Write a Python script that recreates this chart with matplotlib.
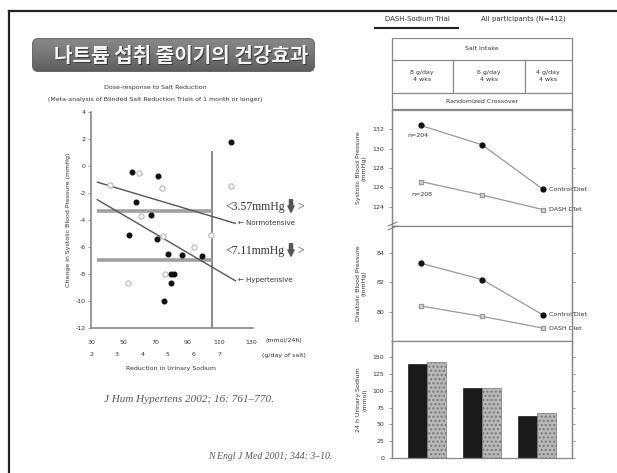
import numpy as np
import matplotlib
matplotlib.use('Agg')
import matplotlib.pyplot as plt
from matplotlib.patches import FancyBboxPatch
from matplotlib.lines import Line2D

# ---- left chart: dose-response meta-analysis ----
na_black = [117.5, 55.6, 72, 58, 67.5, 54, 71, 78, 87, 99, 80, 82, 80, 75.6]
bp_black = [1.8, -0.45, -0.75, -2.7, -3.6, -5.1, -5.4, -6.5, -6.6, -6.7, -8.0, -8.0, -8.7, -10.0]
na_gray = [60, 42, 74, 117.5, 61, 75, 94, 105, 76, 53]
bp_gray = [-0.5, -1.4, -1.6, -1.5, -3.7, -5.2, -6.0, -5.1, -8.0, -8.7]
normo_line = ([34, 120], [-1.2, -4.25])
hyper_line = ([34, 120], [-2.5, -8.5])
pooled_normo = -3.3
pooled_hyper = -7.0
cutoff_na = 105.6
mmol_ticks = [30, 50, 70, 90, 110, 130]
salt_g_ticks = [2, 3, 4, 5, 6, 7]
salt_g_pos = [30, 46, 62, 78, 94, 110]
bp_ticks = [4, 2, 0, -2, -4, -6, -8, -10, -12]

# ---- right chart: DASH-Sodium trial ----
salt_levels = ['8 g/day\n4 wks', '6 g/day\n4 wks', '4 g/day\n4 wks']
sbp_control = [132.4, 130.4, 125.8]
sbp_dash = [126.6, 125.2, 123.7]
dbp_control = [83.3, 82.2, 79.8]
dbp_dash = [80.4, 79.7, 78.9]
una_control = [140, 104, 62.5]
una_dash = [143, 104.5, 67]

W, H = 617, 473
fig = plt.figure(figsize=(W / 100, H / 100), dpi=100)
fig.patch.set_facecolor('white')
txt = '#333333'


def px_axes(x0, y0, x1, y1):
    return fig.add_axes([x0 / W, 1 - y1 / H, (x1 - x0) / W, (y1 - y0) / H])


def ftext(x, y, s, **kw):
    return fig.text(x / W, 1 - y / H, s, **kw)


# slide frame
fig.add_artist(Line2D([9 / W, 1], [1 - 11 / H] * 2, color='#222222', lw=1.6))
fig.add_artist(Line2D([9 / W] * 2, [0, 1 - 11 / H], color='#222222', lw=1.6))

# title banner
axb = px_axes(32, 38, 315, 72)
axb.set_xlim(0, 283)
axb.set_ylim(0, 34)
axb.axis('off')
box = FancyBboxPatch((0.5, 0.5), 282, 33, boxstyle='round,pad=0,rounding_size=6',
                     facecolor='none', edgecolor='#6a6a6a', lw=0.8)
axb.add_patch(box)
grad = np.linspace(0, 1, 34).reshape(-1, 1)
im = axb.imshow(grad, extent=(0, 283, 0, 34), cmap=matplotlib.colors.LinearSegmentedColormap.from_list(
    'b', ['#5c5c5c', '#767676', '#8a8a8a']), aspect='auto', origin='lower')
im.set_clip_path(box)
kfont = ['Noto Sans CJK KR', 'DejaVu Sans']
axb.text(150, 15.5, '나트륨 섭취 줄이기의 건강효과', family=kfont, fontsize=14.5, fontweight='bold',
         color='#3a3a3a', ha='center', va='center')
axb.text(149, 16.5, '나트륨 섭취 줄이기의 건강효과', family=kfont, fontsize=14.5, fontweight='bold',
         color='#f4f4f4', ha='center', va='center')

# left scatter
ax = px_axes(91, 112, 253, 328)
ax.set_xlim(30, 131)
ax.set_ylim(-12, 4)
for s in ['top', 'right']:
    ax.spines[s].set_visible(False)
for s in ['left', 'bottom']:
    ax.spines[s].set_color('#888888')
    ax.spines[s].set_linewidth(1.2)
ax.set_yticks(bp_ticks)
ax.set_yticklabels([str(t) for t in bp_ticks], fontsize=4.5, color=txt)
ax.set_xticks(mmol_ticks)
ax.set_xticklabels([str(t) for t in mmol_ticks], fontsize=4.5, color=txt)
ax.tick_params(length=2, width=0.6, color='#888888', pad=2)
ax.tick_params(axis='x', pad=9, length=0)
for g, p in zip(salt_g_ticks, salt_g_pos):
    ax.text(p, -14.0, str(g), fontsize=4.5, color=txt, ha='center', va='center', clip_on=False)
ax.text(150, -12.95, '(mmol/24h)', fontsize=4.5, color=txt, ha='center', va='center', clip_on=False)
ax.text(150, -14.0, '(g/day of salt)', fontsize=4.5, color=txt, ha='center', va='center', clip_on=False)
ax.text(80, -15.0, 'Reduction in Urinary Sodium', fontsize=4.5, color=txt, ha='center', va='center',
        clip_on=False)
ax.set_ylabel('Change in Systolic Blood Pressure (mmHg)', fontsize=4.5, color=txt, labelpad=3)

ax.axvline(cutoff_na, ymin=0, ymax=(1 + 12) / 16, color='#8a8a8a', lw=1.4)
ax.plot([34, cutoff_na], [pooled_normo] * 2, color='#a0a0a0', lw=2.6, solid_capstyle='butt')
ax.plot([34, cutoff_na], [pooled_hyper] * 2, color='#a0a0a0', lw=2.6, solid_capstyle='butt')
ax.plot(*normo_line, color='#555555', lw=1.0, clip_on=False)
ax.plot(*hyper_line, color='#555555', lw=1.0, clip_on=False)
ax.scatter(na_gray, bp_gray, s=14, facecolor='white', edgecolor='#bdbdbd', lw=0.9, zorder=3)
ax.scatter(na_black, bp_black, s=11, color='#111111', zorder=4, clip_on=False)

ftext(155, 88, 'Dose-response to Salt Reduction', fontsize=4.5, color=txt, ha='center', va='center')
ftext(155, 99, '(Meta-analysis of Blinded Salt Reduction Trials of 1 month or longer)', fontsize=4.5,
      color=txt, ha='center', va='center')

sfont = 'Liberation Serif'
for ylab, lab in [(207, '<3.57mmHg'), (251, '<7.11mmHg')]:
    ftext(225, ylab, lab, family=sfont, fontsize=8.5, color=txt, ha='left', va='center')
    ftext(297, ylab, '>', family=sfont, fontsize=8.5, color=txt, ha='left', va='center')
    fig.add_artist(matplotlib.patches.FancyArrowPatch(
        (291 / W, 1 - (ylab - 10) / H), (291 / W, 1 - (ylab + 8) / H),
        transform=fig.transFigure, arrowstyle='simple,head_width=0.5,head_length=0.5,tail_width=0.25',
        mutation_scale=9, color='#555555'))
ftext(238, 223, '\u2190 Normotensive', fontsize=5, color=txt, ha='left', va='center')
ftext(238, 280, '\u2190 Hypertensive', fontsize=5, color=txt, ha='left', va='center')

ftext(189, 399, 'J Hum Hypertens 2002; 16: 761\u2013770.', family=sfont, style='italic', fontsize=8,
      color='#555555', ha='center', va='center')
ftext(270, 456, 'N Engl J Med 2001; 344: 3\u201310.', family=sfont, style='italic', fontsize=7,
      color='#555555', ha='center', va='center')

# right: header and table
ftext(417, 19, 'DASH-Sodium Trial', fontsize=5, color=txt, ha='center', va='center')
fig.add_artist(Line2D([375 / W, 458 / W], [1 - 28 / H] * 2, color='#222222', lw=1.5))
ftext(523, 19, 'All participants (N=412)', fontsize=5, color=txt, ha='center', va='center')

axt = px_axes(392, 38, 572, 110)
axt.set_xlim(392, 572)
axt.set_ylim(110, 38)
axt.axis('off')
lc = '#888888'
for yy in [38.5, 60, 93, 109]:
    axt.axhline(yy, color=lc, lw=0.9)
for xx in [453, 525]:
    axt.plot([xx, xx], [60, 93], color=lc, lw=0.9)
axt.text(482, 49, 'Salt Intake', fontsize=4.5, color=txt, ha='center', va='center')
for cx, lab in zip([422, 489, 548], salt_levels):
    axt.text(cx, 76, lab, fontsize=4.5, color=txt, ha='center', va='center', linespacing=1.3)
axt.text(482, 101.5, 'Randomized Crossover', fontsize=4.5, color=txt, ha='center', va='center')
fig.add_artist(Line2D([392 / W] * 2, [1 - 38 / H, 1 - 458 / H], color=lc, lw=0.9))
fig.add_artist(Line2D([572 / W] * 2, [1 - 38 / H, 1 - 458 / H], color=lc, lw=0.9))

xs = np.arange(3)


def style_panel(a):
    for s in a.spines.values():
        s.set_color(lc)
        s.set_linewidth(0.9)
    a.tick_params(labelsize=4.5, labelcolor=txt, length=2, width=0.6, color=lc, right=True)
    a.set_xticks([])


axs = px_axes(392, 110, 572, 226)
axs.set_xlim(-0.475, 2.475)
axs.set_ylim(122, 134)
style_panel(axs)
axs.set_yticks([124, 126, 128, 130, 132])
axs.plot(xs, sbp_control, color='#999999', lw=0.9, marker='o', ms=3.5, mfc='#111111', mec='#111111')
axs.plot(xs, sbp_dash, color='#999999', lw=0.9, marker='s', ms=3.5, mfc='#dddddd', mec='#999999')
axs.text(-0.05, 131.4, 'n=204', fontsize=4.5, color=txt, ha='center', va='center')
axs.text(0.02, 125.3, 'n=208', fontsize=4.5, color=txt, ha='center', va='center')
axs.text(2.1, sbp_control[2], 'Control Diet', fontsize=4.5, color=txt, ha='left', va='center', clip_on=False)
axs.text(2.1, sbp_dash[2], 'DASH Diet', fontsize=4.5, color=txt, ha='left', va='center', clip_on=False)
axs.set_ylabel('Systolic Blood Pressure\n(mmHg)', fontsize=4.5, color=txt, labelpad=4)

axd = px_axes(392, 226, 572, 341)
axd.set_xlim(-0.475, 2.475)
axd.set_ylim(78.03, 85.83)
style_panel(axd)
axd.set_yticks([80, 82, 84])
axd.plot(xs, dbp_control, color='#999999', lw=0.9, marker='o', ms=3.5, mfc='#111111', mec='#111111')
axd.plot(xs, dbp_dash, color='#999999', lw=0.9, marker='s', ms=3.5, mfc='#dddddd', mec='#999999')
axd.text(2.1, dbp_control[2], 'Control Diet', fontsize=4.5, color=txt, ha='left', va='center', clip_on=False)
axd.text(2.1, dbp_dash[2], 'DASH Diet', fontsize=4.5, color=txt, ha='left', va='center', clip_on=False)
axd.set_ylabel('Diastolic Blood Pressure\n(mmHg)', fontsize=4.5, color=txt, labelpad=7)

# axis-break marks
for yb in [224, 228]:
    fig.add_artist(Line2D([388 / W, 397 / W], [1 - (yb + 2) / H, 1 - (yb - 2) / H], color='#777777', lw=0.7))

axu = px_axes(392, 341, 572, 458)
axu.set_xlim(-0.636, 2.636)
axu.set_ylim(0, 174)
style_panel(axu)
axu.set_yticks([0, 25, 50, 75, 100, 125, 150])
bw = 0.345
axu.bar(xs - bw / 2, una_control, width=bw, color='#1a1a1a', edgecolor='#1a1a1a', lw=0.5)
plt.rcParams['hatch.color'] = '#8c8c8c'
axu.bar(xs + bw / 2, una_dash, width=bw, color='#b8b8b8', edgecolor='#777777', lw=0.5, hatch='....')
axu.set_ylabel('24 h Urinary Sodium\n(mmol)', fontsize=4.5, color=txt, labelpad=4)

fig.savefig('out.png', dpi=100)
